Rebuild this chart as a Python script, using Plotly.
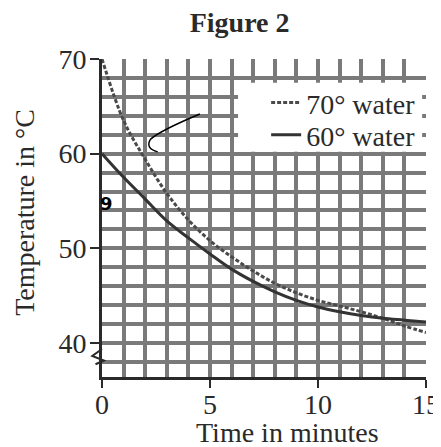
import plotly.graph_objects as go

# ---- data ----
time_min = [0, 1, 2, 3, 4, 5, 6, 7, 8, 9, 10, 11, 12, 13, 14, 15]
water_70 = [70, 63.5, 59.4, 55.8, 53, 50.8, 49.1, 47.6, 46.3, 45.3, 44.5, 43.9, 43.3, 42.6, 41.8, 41.1]
water_60 = [60, 57.5, 55.2, 52.9, 51.1, 49.4, 47.8, 46.5, 45.4, 44.5, 43.8, 43.3, 42.9, 42.6, 42.4, 42.2]
series_names = ["70° water", "60° water"]
x_ticks = [0, 5, 10, 15]
y_ticks = [40, 50, 60, 70]

FONT = "Liberation Serif"
INK = "#2a2a2a"
GRID = "#7a7a7a"

fig = go.Figure()
fig.add_trace(go.Scatter(x=time_min, y=water_70, mode="lines", name=series_names[0],
                         legend="legend",
                         line=dict(color="#4a4a4a", width=3, dash="4px,2px", shape="spline")))
fig.add_trace(go.Scatter(x=time_min, y=water_60, mode="lines", name=series_names[1],
                         legend="legend2",
                         line=dict(color="#333333", width=3, shape="spline")))

y_lo = 36.4
leg_common = dict(x=0.985, xanchor="right", yanchor="middle",
                  bgcolor="rgba(0,0,0,0)", borderwidth=0, itemwidth=30,
                  font=dict(family=FONT, size=28, color=INK))
fig.update_layout(
    width=433, height=439,
    margin=dict(l=94, r=15, t=51, b=70, autoexpand=False),
    paper_bgcolor="white", plot_bgcolor="white",
    font=dict(family=FONT, size=28, color=INK),
    showlegend=True,
    legend=dict(y=0.862, **leg_common),
    legend2=dict(y=0.761, **leg_common),
    title=dict(text="<b>Figure 2</b>", x=0.535, xanchor="center", y=0.968, yanchor="middle",
               font=dict(family=FONT, size=28, color=INK)),
)

fig.update_xaxes(range=[0, 15], tickvals=x_ticks, ticktext=[str(v) for v in x_ticks],
                 automargin=False, ticklabelstandoff=-8,
                 showgrid=True, gridcolor=GRID, gridwidth=4,
                 minor=dict(dtick=1, showgrid=True, gridcolor=GRID, gridwidth=4),
                 showline=True, linecolor=INK, linewidth=3,
                 ticks="outside", ticklen=8, tickwidth=2, tickcolor=INK,
                 tickfont=dict(family=FONT, size=28, color=INK), zeroline=False)
fig.update_yaxes(range=[y_lo, 70], tickvals=y_ticks, ticktext=[str(v) for v in y_ticks],
                 automargin=False, ticklabelstandoff=-2,
                 showgrid=True, gridcolor=GRID, gridwidth=4,
                 minor=dict(dtick=2, tick0=0, showgrid=True, gridcolor=GRID, gridwidth=4),
                 showline=True, linecolor=INK, linewidth=3,
                 ticks="outside", ticklen=9, tickwidth=2, tickcolor=INK,
                 tickfont=dict(family=FONT, size=28, color=INK), zeroline=False)

annotations = [
    dict(text="Time in minutes", xref="paper", yref="paper", x=0.571, y=-0.176,
         xanchor="center", yanchor="middle", showarrow=False,
         font=dict(family=FONT, size=28, color=INK)),
    dict(text="Temperature in °C", xref="paper", yref="paper", x=-0.238, y=0.519,
         xanchor="center", yanchor="middle", textangle=-90, showarrow=False,
         font=dict(family=FONT, size=28, color=INK)),
    # axis arrowheads
    dict(x=15.3, y=y_lo, xref="x", yref="y", ax=-14, ay=0, text="", showarrow=True,
         arrowhead=2, arrowsize=1, arrowwidth=3, arrowcolor=INK),
    dict(x=0, y=70.8, xref="x", yref="y", ax=0, ay=14, text="", showarrow=True,
         arrowhead=2, arrowsize=1, arrowwidth=3, arrowcolor=INK),
    # stray pen mark
    dict(text="<b>9</b>", xref="paper", yref="paper", x=0.014, y=0.545,
         xanchor="center", yanchor="middle", showarrow=False,
         font=dict(family="DejaVu Sans", size=18, color="black")),
]
fig.update_layout(annotations=annotations)

# white backing of the legend region (covers the grid there)
fig.add_shape(type="rect", xref="paper", yref="paper", layer="above",
              x0=0.42, x1=0.988, y0=0.708, y1=0.925,
              fillcolor="white", line=dict(width=0))
# hand-drawn pen mark
fig.add_shape(type="path", xref="paper", yref="paper",
              path="M 0.302,0.827 Q 0.18,0.775 0.15,0.748 Q 0.132,0.72 0.172,0.708",
              line=dict(color="black", width=1.5))
# axis break zigzag
fig.add_shape(type="path", xref="paper", yref="paper",
              path="M 0,0.088 L -0.03,0.066 L 0.006,0.052 L -0.02,0.04",
              line=dict(color=INK, width=2))

fig.write_html("out.html")
